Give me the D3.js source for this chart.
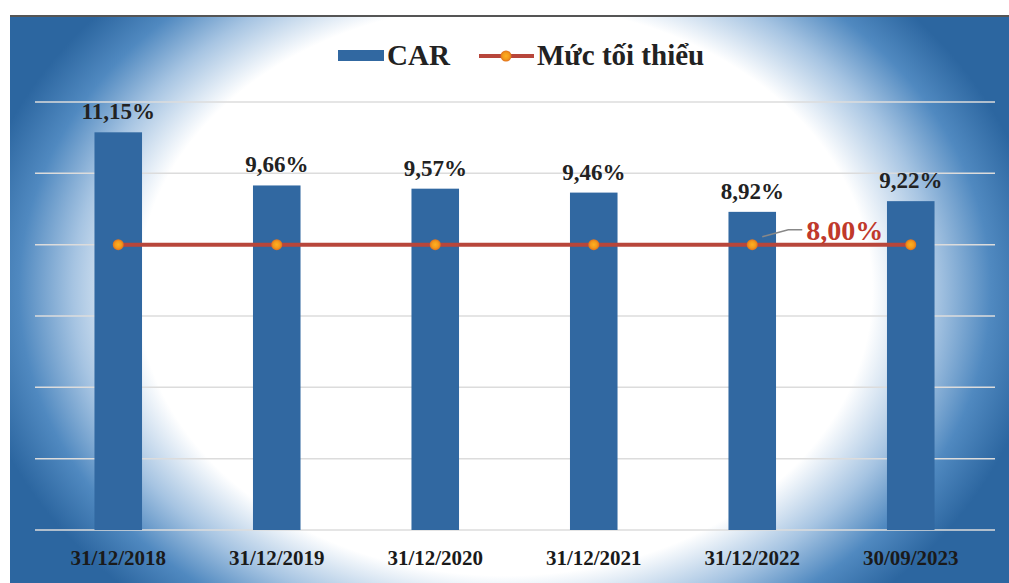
<!DOCTYPE html>
<html>
<head>
<meta charset="utf-8">
<script src="https://cdn.jsdelivr.net/npm/d3@7"></script>
<style>
  body { margin: 0; background: #fff; }
  text { font-family: "Liberation Serif", "Times New Roman", serif; font-weight: bold; }
</style>
</head>
<body>
<svg class="chart"></svg>
<script>
// chart data
var periods = ["31/12/2018", "31/12/2019", "31/12/2020", "31/12/2021", "31/12/2022", "30/09/2023"];
var carValues = [11.15, 9.66, 9.57, 9.46, 8.92, 9.22];
var minValues = [8, 8, 8, 8, 8, 8];
var gridTicks = [0, 2, 4, 6, 8, 10, 12];
var legendLabels = ["CAR", "Mức tối thiểu"];

var W = 1009, H = 583;

var svg = d3.select(".chart")
  .attr("width", W)
  .attr("height", H);

// background gradient (white centre, blue edges)
var defs = svg.append("defs");
var grad = defs.append("radialGradient")
  .attr("id", "bg")
  .attr("gradientUnits", "userSpaceOnUse")
  .attr("cx", 0).attr("cy", 0).attr("r", 1)
  .attr("gradientTransform", "translate(505,290) scale(540,420)");
grad.append("stop").attr("offset", "0").attr("stop-color", "#ffffff");
grad.append("stop").attr("offset", "0.68").attr("stop-color", "#ffffff");
grad.append("stop").attr("offset", "0.8").attr("stop-color", "#a6c4e2");
grad.append("stop").attr("offset", "0.9").attr("stop-color", "#5089c0");
grad.append("stop").attr("offset", "1").attr("stop-color", "#2c66a0");

var glow = defs.append("radialGradient").attr("id", "dot");
glow.append("stop").attr("offset", "0").attr("stop-color", "#ffb020");
glow.append("stop").attr("offset", "0.6").attr("stop-color", "#f39a1c");
glow.append("stop").attr("offset", "1").attr("stop-color", "#e0701c");

svg.append("rect")
  .attr("x", 10).attr("y", 15)
  .attr("width", W - 10).attr("height", H - 15)
  .attr("fill", "url(#bg)");

svg.append("line")
  .attr("x1", 10).attr("x2", W)
  .attr("y1", 16).attr("y2", 16)
  .attr("stroke", "#555").attr("stroke-width", 2);

// scales
var x = d3.scaleBand()
  .domain(periods)
  .range([39, 990])
  .paddingInner(0.7)
  .paddingOuter(0.35);

var y = d3.scaleLinear()
  .domain([0, 12])
  .range([530, 102]);

// gridlines
svg.append("g")
  .selectAll("line")
  .data(gridTicks)
  .enter().append("line")
  .attr("x1", 35).attr("x2", 995)
  .attr("y1", function(d) { return y(d); })
  .attr("y2", function(d) { return y(d); })
  .attr("stroke", "#dcdcdc")
  .attr("stroke-width", 1.5);

// bars
svg.append("g")
  .selectAll("rect")
  .data(carValues)
  .enter().append("rect")
  .attr("x", function(d, i) { return x(periods[i]); })
  .attr("y", function(d) { return y(d); })
  .attr("width", x.bandwidth())
  .attr("height", function(d) { return y(0) - y(d); })
  .attr("fill", "#3168a1");

// bar labels
svg.append("g")
  .selectAll("text")
  .data(carValues)
  .enter().append("text")
  .attr("x", function(d, i) { return x(periods[i]) + x.bandwidth() / 2; })
  .attr("y", function(d) { return y(d) - 13; })
  .attr("text-anchor", "middle")
  .attr("font-size", 23)
  .attr("fill", "#222")
  .text(function(d) { return d.toFixed(2).replace(".", ",") + "%"; });

// x-axis labels
var xAxis = d3.axisBottom(x).tickSize(0).tickPadding(20);
var gx = svg.append("g")
  .attr("transform", "translate(0," + y(0) + ")")
  .call(xAxis);
gx.select(".domain").remove();
gx.selectAll("text")
  .attr("font-size", 21)
  .attr("font-family", "Liberation Serif, serif")
  .attr("fill", "#1a1a1a");

// minimum line
var line = d3.line()
  .x(function(d, i) { return x(periods[i]) + x.bandwidth() / 2; })
  .y(function(d) { return y(d); });

svg.append("path")
  .datum(minValues)
  .attr("d", line)
  .attr("fill", "none")
  .attr("stroke", "#b8463b")
  .attr("stroke-width", 4);

svg.append("g")
  .selectAll("circle")
  .data(minValues)
  .enter().append("circle")
  .attr("cx", function(d, i) { return x(periods[i]) + x.bandwidth() / 2; })
  .attr("cy", function(d) { return y(d); })
  .attr("r", 5.5)
  .attr("fill", "url(#dot)");

// 8,00% callout
var cx5 = x(periods[4]) + x.bandwidth() / 2;
svg.append("path")
  .attr("d", "M" + (cx5 + 10) + "," + (y(minValues[4]) - 8) + "L" + (cx5 + 36) + "," + (y(minValues[4]) - 15) + "h14")
  .attr("fill", "none")
  .attr("stroke", "#888")
  .attr("stroke-width", 1.5);

svg.append("text")
  .attr("x", cx5 + 54)
  .attr("y", y(minValues[4]) - 5)
  .attr("font-size", 28)
  .attr("fill", "#c0392b")
  .text(minValues[4].toFixed(2).replace(".", ",") + "%");

// legend
var legend = svg.append("g");
legend.append("rect")
  .attr("x", 338).attr("y", 50)
  .attr("width", 46).attr("height", 11)
  .attr("fill", "#3168a1");
legend.append("text")
  .attr("x", 387).attr("y", 65)
  .attr("font-size", 29)
  .attr("fill", "#222")
  .text(legendLabels[0]);
legend.append("line")
  .attr("x1", 479).attr("x2", 534)
  .attr("y1", 56).attr("y2", 56)
  .attr("stroke", "#b8463b").attr("stroke-width", 4);
legend.append("circle")
  .attr("cx", 506).attr("cy", 56).attr("r", 5.5)
  .attr("fill", "url(#dot)");
legend.append("text")
  .attr("x", 537).attr("y", 65)
  .attr("font-size", 29)
  .attr("fill", "#222")
  .text(legendLabels[1]);
</script>
</body>
</html>
